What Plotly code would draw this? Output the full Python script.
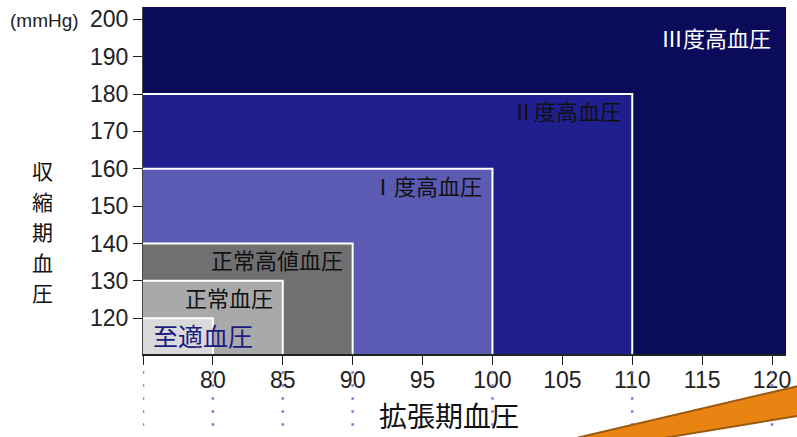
import plotly.graph_objects as go

# Blood pressure classification (mmHg)
categories = ["至適血圧", "正常血圧", "正常高値血圧", "Ⅰ度高血圧", "Ⅱ度高血圧", "Ⅲ度高血圧"]
dbp_upper = [80, 85, 90, 100, 110, 121]      # diastolic upper bound of each zone
sbp_upper = [120, 130, 140, 160, 180, 200]   # systolic upper bound of each zone
zone_colors = ["#d9d9db", "#a9a9ab", "#707072", "#5b5bb3", "#1f1f8f", "#0b0b5c"]
label_colors = ["#1c1c80", "#111111", "#111111", "#111111", "#111111", "#ffffff"]

x_ticks = [75, 80, 85, 90, 95, 100, 105, 110, 115, 120]
x_ticklabels = ["", "80", "85", "90", "95", "100", "105", "110", "115", "120"]
y_ticks = [120, 130, 140, 150, 160, 170, 180, 190, 200]
dotted_x = [75, 80, 85, 90, 100, 110, 120]

x_min, x_max = 75, 121
y_min, y_max = 110.4, 203.3

fig = go.Figure()
shapes = []

# Zones drawn from largest to smallest so smaller ones sit on top
n = len(categories)
for i in reversed(range(n)):
    top = y_max if i == n - 1 else sbp_upper[i]
    shapes.append(dict(type="rect", xref="x", yref="y", layer="below",
                       x0=x_min, x1=dbp_upper[i], y0=y_min, y1=top,
                       fillcolor=zone_colors[i], line=dict(width=0)))

# White borders along top and right edges of the inner zones
for i in reversed(range(n - 1)):
    fig.add_trace(go.Scatter(
        x=[x_min, dbp_upper[i], dbp_upper[i]],
        y=[sbp_upper[i], sbp_upper[i], y_min],
        mode="lines", line=dict(color="#ffffff", width=2),
        hoverinfo="skip", showlegend=False, cliponaxis=False))

# Zone labels
annotations = []
for i in range(n):
    if i == 0:
        annotations.append(dict(x=x_min, y=sbp_upper[i], xref="x", yref="y",
                                text=categories[i], showarrow=False,
                                xanchor="left", yanchor="middle", xshift=8, yshift=-17,
                                font=dict(family="Noto Sans CJK JP", size=25,
                                          color=label_colors[i])))
    else:
        annotations.append(dict(x=dbp_upper[i], y=sbp_upper[i], xref="x", yref="y",
                                text=categories[i], showarrow=False,
                                xanchor="right", yanchor="middle",
                                xshift=-13 if i == n - 1 else -8,
                                yshift=-18 if i == n - 1 else -16,
                                font=dict(family="Noto Sans CJK JP", size=22,
                                          color=label_colors[i])))

# Unit label next to the top tick
annotations.append(dict(x=0, y=1, xref="paper", yref="paper", text="(mmHg)",
                        showarrow=False, xanchor="right", yanchor="middle",
                        xshift=-62, yshift=-13,
                        font=dict(family="Liberation Sans", size=19, color="#222222")))

# Vertical y-axis title, stacked one character at a time
for k, ch in enumerate("収縮期血圧"):
    annotations.append(dict(x=0, y=1, xref="paper", yref="paper", text=ch,
                            showarrow=False, xanchor="center", yanchor="middle",
                            xshift=-101, yshift=-(163 + 30.5 * k),
                            font=dict(family="Noto Sans CJK JP", size=21, color="#111111")))

# X-axis title
annotations.append(dict(x=0, y=0, xref="paper", yref="paper", text="拡張期血圧",
                        showarrow=False, xanchor="center", yanchor="middle",
                        xshift=306, yshift=-61,
                        font=dict(family="Noto Sans CJK JP", size=28, color="#111111")))

# Dotted guide lines below the axis
for xv in dotted_x:
    shapes.append(dict(type="line", xref="x", yref="paper", x0=xv, x1=xv,
                       y0=-0.05, y1=-0.225,
                       line=dict(color="#7c7cd4", width=2.5, dash="2.5px,10.5px")))

# Orange pointer band in the lower right corner
shapes.append(dict(type="path", xref="paper", yref="paper",
                   path="M 0.667,-0.245 L 1.02,-0.092 L 1.02,-0.178 L 0.80,-0.245 Z",
                   fillcolor="#e98312", line=dict(color="#9a5a10", width=2)))

fig.update_layout(
    width=797, height=437,
    margin=dict(l=143, r=6, t=6, b=83),
    paper_bgcolor="#ffffff",
    plot_bgcolor=zone_colors[-1],
    shapes=shapes,
    annotations=annotations,
    showlegend=False,
    xaxis=dict(range=[x_min, x_max], tickmode="array", tickvals=x_ticks,
               ticktext=x_ticklabels, ticks="outside", ticklen=9, tickwidth=1.3,
               tickcolor="#222222", showline=True, linecolor="#222222", linewidth=1.5,
               showgrid=False, zeroline=False, ticklabelstandoff=-4,
               tickfont=dict(family="Liberation Sans", size=23, color="#222222")),
    yaxis=dict(range=[y_min, y_max], tickmode="array", tickvals=y_ticks,
               ticks="outside", ticklen=9, tickwidth=1.3, tickcolor="#222222",
               showline=True, linecolor="#444444", linewidth=1,
               showgrid=False, zeroline=False,
               tickfont=dict(family="Liberation Sans", size=23, color="#222222")),
)

fig.write_html("out.html")
